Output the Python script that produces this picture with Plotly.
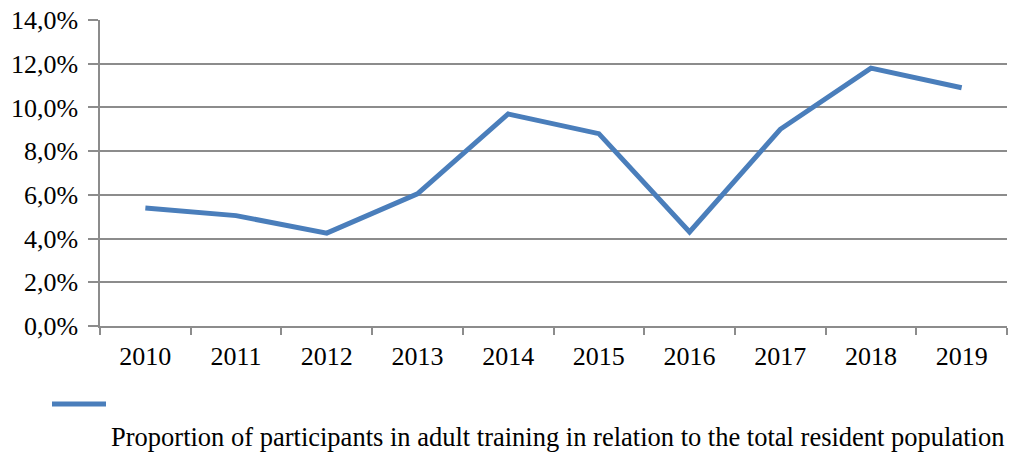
import plotly.graph_objects as go

years = ["2010", "2011", "2012", "2013", "2014", "2015", "2016", "2017", "2018", "2019"]
share = [5.4, 5.05, 4.25, 6.05, 9.7, 8.8, 4.3, 9.0, 11.8, 10.9]
series_name = "Proportion of participants in adult training in relation to the total resident population"
y_ticks = [0, 2, 4, 6, 8, 10, 12, 14]
y_tick_labels = ["0,0%", "2,0%", "4,0%", "6,0%", "8,0%", "10,0%", "12,0%", "14,0%"]

line_color = "#4A7EBB"
grid_color = "#8C8C8C"
font_family = "Liberation Serif"

fig = go.Figure()
fig.add_trace(go.Scatter(
    x=years, y=share, mode="lines", name=series_name,
    line=dict(color=line_color, width=5), showlegend=False,
))

fig.update_layout(
    width=1009, height=452,
    margin=dict(l=100, r=2, t=20, b=126, autoexpand=False),
    paper_bgcolor="white", plot_bgcolor="white",
    font=dict(family=font_family, size=26, color="black"),
)
fig.update_xaxes(
    type="category", range=[-0.5, 9.5], automargin=False,
    tickson="boundaries", ticks="outside", ticklen=7, tickcolor=grid_color, tickwidth=1.5,
    showline=True, linecolor=grid_color, linewidth=1.5,
    showgrid=False, tickfont=dict(size=26, family=font_family),
    ticklabelstandoff=6,
)
fig.update_yaxes(
    range=[0, 14], tickvals=y_ticks, ticktext=y_tick_labels, automargin=False,
    ticks="outside", ticklen=10, tickcolor=grid_color, tickwidth=1.5,
    showline=True, linecolor=grid_color, linewidth=1.5,
    showgrid=True, gridcolor=grid_color, gridwidth=1.5,
    zeroline=False, tickfont=dict(size=26, family=font_family),
    ticklabelstandoff=5,
)

# Legend (Excel-style: key above, text below)
fig.add_shape(type="line", xref="paper", yref="paper",
              x0=(52 - 100) / 907, x1=(106 - 100) / 907,
              y0=(326 - 404) / 306, y1=(326 - 404) / 306,
              line=dict(color=line_color, width=5))
fig.add_annotation(text=series_name, xref="paper", yref="paper",
                   x=(1006 - 100) / 907, y=(326 - 437) / 306,
                   xanchor="right", yanchor="middle", showarrow=False,
                   font=dict(size=26.5, family=font_family))

fig.write_html("out.html", config={"displayModeBar": False},
               post_script="document.body.style.margin='0';document.body.style.overflow='hidden';")
